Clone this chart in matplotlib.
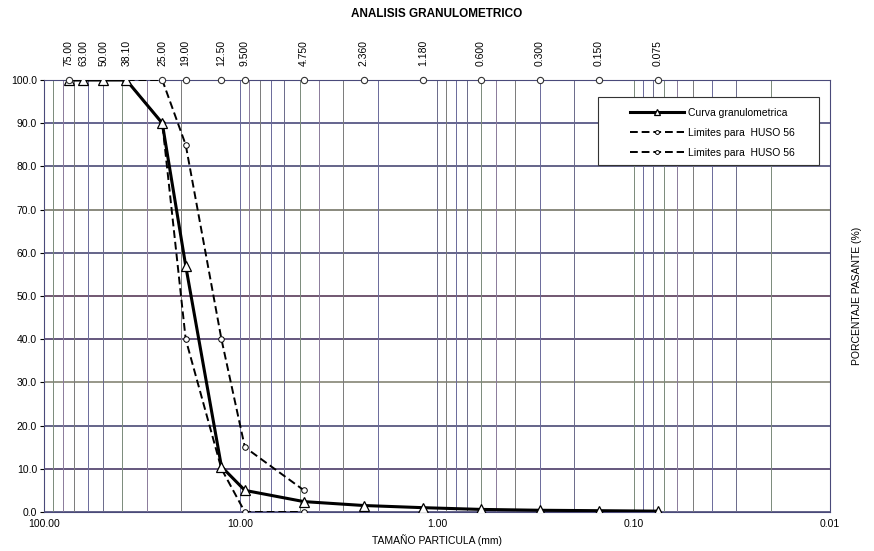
import matplotlib
matplotlib.use("Agg")
import matplotlib.pyplot as plt
import numpy as np
from matplotlib.ticker import FixedLocator, NullFormatter, LogLocator
from matplotlib.patches import Rectangle

plt.rcParams['font.family'] = ['Liberation Sans Narrow', 'Liberation Sans', 'DejaVu Sans']

# ---- data ----
sieve_sizes = [75.0, 63.0, 50.0, 38.1, 25.0, 19.0, 12.5, 9.5, 4.75, 2.36, 1.18, 0.6, 0.3, 0.15, 0.075]
sieve_labels = ["75.00", "63.00", "50.00", "38.10", "25.00", "19.00", "12.50", "9.500",
                "4.750", "2.360", "1.180", "0.600", "0.300", "0.150", "0.075"]
curve_pass = [100, 100, 100, 100, 90, 57, 10.5, 5.0, 2.4, 1.5, 1.0, 0.6, 0.4, 0.3, 0.2]

upper_sizes = [75.0, 63.0, 50.0, 38.1, 25.0, 19.0, 12.5, 9.5, 4.75]
upper_pass = [100, 100, 100, 100, 100, 85, 40, 15, 5]

lower_sizes = [75.0, 63.0, 50.0, 38.1, 25.0, 19.0, 12.5, 9.5, 4.75]
lower_pass = [100, 100, 100, 100, 90, 40, 10, 0, 0]

top_marker_sizes = [75.0, 25.0, 19.0, 12.5, 9.5, 4.75, 2.36, 1.18, 0.6, 0.3, 0.15, 0.075]
top_marker_pass = [100] * len(top_marker_sizes)

y_ticks = [0, 10, 20, 30, 40, 50, 60, 70, 80, 90, 100]
x_major = [100, 10, 1, 0.1, 0.01]
x_major_labels = ["100.00", "10.00", "1.00", "0.10", "0.01"]

title = "ANALISIS GRANULOMETRICO"
xlabel = "TAMAÑO PARTICULA (mm)"
ylabel = "PORCENTAJE PASANTE (%)"
legend_labels = ["Curva granulometrica", "Limites para  HUSO 56", "Limites para  HUSO 56"]

# ---- figure ----
fig = plt.figure(figsize=(8.74, 5.51), dpi=100)
ax = fig.add_axes([0.0503, 0.0708, 0.8994, 0.7840])
ax.set_xscale('log')
ax.set_xlim(100, 0.01)
ax.set_ylim(0, 100)

# grid
grid_colors = ['#3a3a6a', '#3a2a5a', '#3a3a6a', '#7a7a6a', '#3a2a5a', '#4a2a4a',
               '#3a3a6a', '#6a6a5a', '#3a3a6a', '#3a3a70', '#4a4a8a']
for i, yv in enumerate(y_ticks):
    ax.axhline(yv, color=grid_colors[i % len(grid_colors)], lw=1.1, zorder=1)
vx = []
for dec in [10, 1, 0.1, 0.01]:
    for k in range(1, 10):
        vx.append(dec * k)
vcols = ['#6a6a9a', '#7a7a7a', '#8a7a9a', '#7a8a7a', '#6a6a8a']
for i, xv in enumerate(vx):
    if 0.01 <= xv <= 100:
        ax.axvline(xv, color=vcols[i % len(vcols)], lw=0.7, zorder=1)

l1, = ax.plot(sieve_sizes, curve_pass, color='black', lw=2.2, marker='^', ms=7,
              mfc='white', mec='black', mew=0.9, zorder=5, label=legend_labels[0])
l2, = ax.plot(upper_sizes, upper_pass, color='black', lw=1.4, ls=(0, (4, 2)), marker='o', ms=4,
              mfc='white', mec='black', mew=0.7, zorder=4, label=legend_labels[1])
l3, = ax.plot(lower_sizes, lower_pass, color='black', lw=1.4, ls=(0, (4, 2)), marker='o', ms=4,
              mfc='white', mec='black', mew=0.7, zorder=4, label=legend_labels[2])
ax.plot(top_marker_sizes, top_marker_pass, ls='none', marker='o', ms=4.5,
        mfc='white', mec='#333333', mew=0.8, zorder=6, clip_on=False)

ax.xaxis.set_major_locator(FixedLocator(x_major))
ax.set_xticklabels(x_major_labels, fontsize=7.5)
ax.xaxis.set_minor_locator(LogLocator(base=10, subs=np.arange(2, 10)))
ax.xaxis.set_minor_formatter(NullFormatter())
ax.tick_params(axis='x', which='both', length=0, pad=5)
ax.set_yticks(y_ticks)
ax.set_yticklabels([f"{v:.1f}" for v in y_ticks], fontsize=7.5)
ax.tick_params(axis='y', length=3, pad=2)

for s in ax.spines.values():
    s.set_color('#4a4a7a')
    s.set_linewidth(0.8)

ax.set_xlabel(xlabel, fontsize=7.5, labelpad=4)
ax.yaxis.set_label_position('right')
ax.set_ylabel(ylabel, fontsize=7.5, labelpad=16)
ax.yaxis.tick_left()

top = ax.secondary_xaxis('top')
top.set_xticks(sieve_sizes)
top.set_xticklabels(sieve_labels, rotation=90, fontsize=7.5)
top.tick_params(length=0, pad=10)
top.xaxis.set_minor_locator(FixedLocator([]))
top.spines['top'].set_visible(False)

fig.text(0.5, 0.975, title, ha='center', va='center', fontsize=8.5, fontweight='bold')

# legend box
ax.add_patch(Rectangle((0.705, 0.803), 0.281, 0.158, transform=ax.transAxes,
                       facecolor='white', edgecolor='#333333', lw=0.8, zorder=9))
leg = ax.legend(handles=[l1, l2, l3], loc='upper left', bbox_to_anchor=(0.735, 0.955),
                fontsize=7.5, frameon=False, handlelength=5.2, handletextpad=0.4,
                borderpad=0.3, labelspacing=0.95, markerscale=0.7)
leg.set_zorder(10)

fig.savefig('out.png', dpi=100)
